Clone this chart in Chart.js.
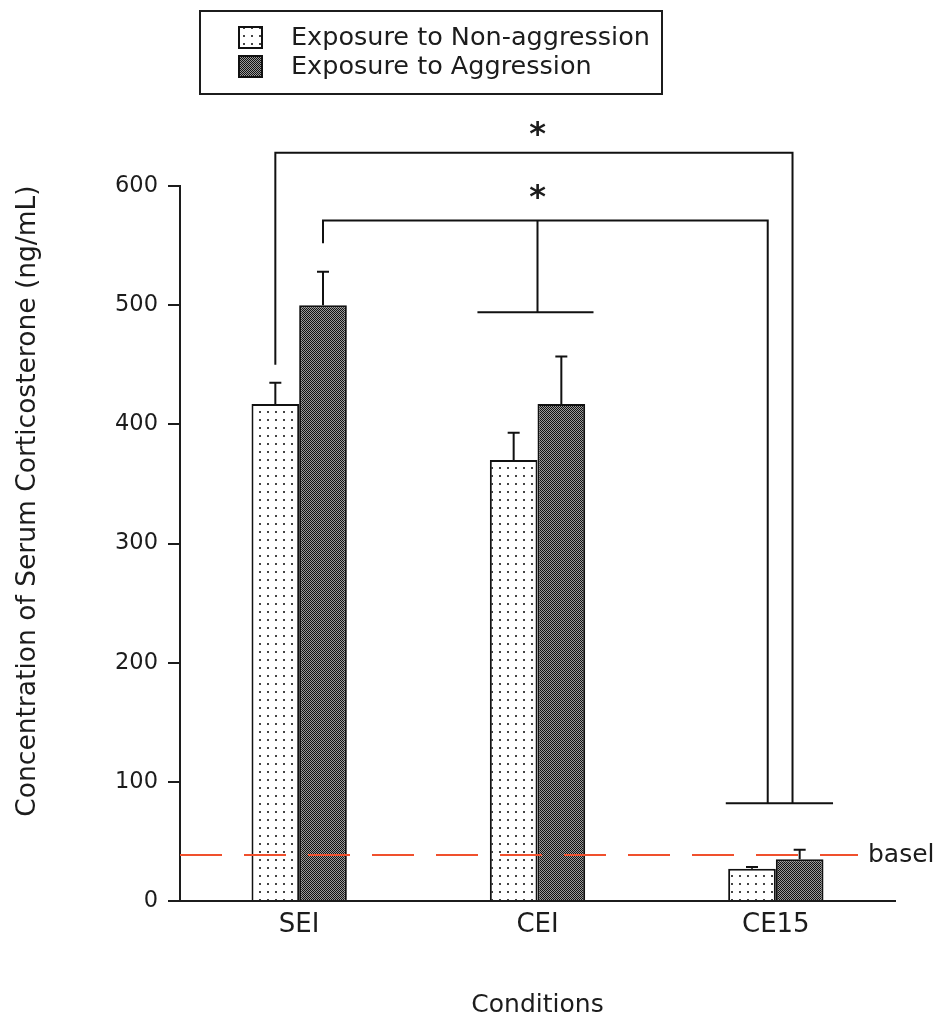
<!DOCTYPE html>
<html>
<head>
<meta charset="utf-8">
<script src="https://cdn.jsdelivr.net/npm/chart.js@4.4.1/dist/chart.umd.min.js"></script>
<style>
  html, body { margin: 0; padding: 0; background: #fff; }
</style>
</head>
<body>
<canvas id="chart" width="938" height="1020"></canvas>
<script>
// Data
const conditions = ['SEI', 'CEI', 'CE15'];
const seriesNames = ['Exposure to Non-aggression', 'Exposure to Aggression'];
const nonAggression = [417, 370, 27];
const aggression = [500, 417, 35];
const nonAggressionErr = [18, 23, 1.5];
const aggressionErr = [28, 40, 8];
const yTicks = [0, 100, 200, 300, 400, 500, 600];
const basalLevel = 38.5;

// Significance brackets, x in category units, y in ng/mL
// [left x, left y, right x, right y, top y]
const sigBrackets = [
  [-0.1, 450, 2.07, 82, 628],
  [0.1, 552, 1.966, 82, 571]
];
const sigStars = [647, 594];
// stem under the inner bracket: [x, from, to, cap left, cap right]
const ceiStem = [1.0, 571, 494, 0.748, 1.235];
// cap under the right legs: [left x, right x, y]
const ce15Cap = [1.79, 2.24, 82];

const FONT = "'DejaVu Sans', sans-serif";
const INK = '#1c1c1c';

// Fill patterns
function dotPattern() {
  const c = document.createElement('canvas');
  c.width = 8; c.height = 8;
  const g = c.getContext('2d');
  g.fillStyle = '#fff';
  g.fillRect(0, 0, 8, 8);
  g.fillStyle = '#444';
  g.fillRect(3, 3, 2, 2);
  return g.createPattern(c, 'repeat');
}

function checkPattern() {
  const c = document.createElement('canvas');
  c.width = 2; c.height = 2;
  const g = c.getContext('2d');
  g.fillStyle = '#9a9a9a';
  g.fillRect(0, 0, 2, 2);
  g.fillStyle = '#111';
  g.fillRect(0, 0, 1, 1);
  g.fillRect(1, 1, 1, 1);
  return g.createPattern(c, 'repeat');
}

const dots = dotPattern();
const checks = checkPattern();

// Extras drawn over the bars
const extrasPlugin = {
  id: 'extras',
  afterDatasetsDraw(chart) {
    const ctx = chart.ctx;
    const x = chart.scales.x;
    const y = chart.scales.y;
    const area = chart.chartArea;
    const xu = u => x.getPixelForValue(0) + u * (x.getPixelForValue(1) - x.getPixelForValue(0));

    ctx.save();
    ctx.strokeStyle = '#111';
    ctx.lineWidth = 2;

    // error bars
    const errs = [nonAggressionErr, aggressionErr];
    const vals = [nonAggression, aggression];
    errs.forEach((err, i) => {
      chart.getDatasetMeta(i).data.forEach((bar, j) => {
        const top = y.getPixelForValue(vals[i][j]);
        const end = y.getPixelForValue(vals[i][j] + err[j]);
        ctx.beginPath();
        ctx.moveTo(bar.x, top);
        ctx.lineTo(bar.x, end);
        ctx.moveTo(bar.x - 6, end);
        ctx.lineTo(bar.x + 6, end);
        ctx.stroke();
      });
    });

    // significance brackets
    sigBrackets.forEach(b => {
      ctx.beginPath();
      ctx.moveTo(xu(b[0]), y.getPixelForValue(b[1]));
      ctx.lineTo(xu(b[0]), y.getPixelForValue(b[4]));
      ctx.lineTo(xu(b[2]), y.getPixelForValue(b[4]));
      ctx.lineTo(xu(b[2]), y.getPixelForValue(b[3]));
      ctx.stroke();
    });
    ctx.beginPath();
    ctx.moveTo(xu(ceiStem[0]), y.getPixelForValue(ceiStem[1]));
    ctx.lineTo(xu(ceiStem[0]), y.getPixelForValue(ceiStem[2]));
    ctx.moveTo(xu(ceiStem[3]), y.getPixelForValue(ceiStem[2]));
    ctx.lineTo(xu(ceiStem[4]), y.getPixelForValue(ceiStem[2]));
    ctx.moveTo(xu(ce15Cap[0]), y.getPixelForValue(ce15Cap[2]));
    ctx.lineTo(xu(ce15Cap[1]), y.getPixelForValue(ce15Cap[2]));
    ctx.stroke();

    ctx.fillStyle = INK;
    ctx.font = 'bold 32px ' + FONT;
    ctx.textAlign = 'center';
    ctx.textBaseline = 'middle';
    sigStars.forEach(v => ctx.fillText('*', xu(1.0), y.getPixelForValue(v) + 6));

    // basal level
    const by = y.getPixelForValue(basalLevel);
    ctx.strokeStyle = '#f0502d';
    ctx.setLineDash([42, 22]);
    ctx.beginPath();
    ctx.moveTo(area.left, by);
    ctx.lineTo(area.right - 37, by);
    ctx.stroke();
    ctx.setLineDash([]);
    ctx.fillStyle = INK;
    ctx.font = '25px ' + FONT;
    ctx.textAlign = 'left';
    ctx.fillText('basel', area.right - 27, by);
    ctx.restore();
  },
  afterDraw(chart) {
    const ctx = chart.ctx;
    ctx.save();

    // y axis title
    ctx.fillStyle = INK;
    ctx.font = '26.5px ' + FONT;
    ctx.textAlign = 'center';
    ctx.textBaseline = 'middle';
    ctx.translate(28, 501);
    ctx.rotate(-Math.PI / 2);
    ctx.fillText('Concentration of Serum Corticosterone (ng/mL)', 0, 0);
    ctx.setTransform(1, 0, 0, 1, 0, 0);

    // legend box
    ctx.strokeStyle = INK;
    ctx.lineWidth = 2;
    ctx.strokeRect(200, 11, 462, 83);
    const fills = [dots, checks];
    seriesNames.forEach((name, i) => {
      const top = 27 + i * 29;
      ctx.fillStyle = fills[i];
      ctx.fillRect(239, top, 23, 21);
      ctx.lineWidth = 2;
      ctx.strokeStyle = '#111';
      ctx.strokeRect(239, top, 23, 21);
      ctx.fillStyle = INK;
      ctx.font = '25.5px ' + FONT;
      ctx.textAlign = 'left';
      ctx.fillText(name, 291, top + 11);
    });
    ctx.restore();
  }
};

new Chart(document.getElementById('chart'), {
  type: 'bar',
  data: {
    labels: conditions,
    datasets: [
      {
        label: seriesNames[0],
        data: nonAggression,
        backgroundColor: dots,
        borderColor: '#111',
        borderWidth: 2
      },
      {
        label: seriesNames[1],
        data: aggression,
        backgroundColor: checks,
        borderColor: '#111',
        borderWidth: 2
      }
    ]
  },
  options: {
    responsive: false,
    animation: false,
    devicePixelRatio: 1,
    categoryPercentage: 0.4,
    barPercentage: 1.0,
    layout: {
      padding: { top: 186, right: 43, bottom: 0, left: 0 }
    },
    plugins: {
      legend: { display: false },
      tooltip: { enabled: false }
    },
    scales: {
      x: {
        grid: { display: false, drawTicks: false },
        border: { display: true, color: INK, width: 2 },
        ticks: {
          color: INK,
          padding: 9,
          font: { family: FONT, size: 26 }
        },
        title: {
          display: true,
          text: 'Conditions',
          color: INK,
          padding: { top: 0, bottom: 0 },
          font: { family: FONT, size: 25 }
        },
        afterFit(scale) { scale.height = 119; }
      },
      y: {
        min: 0,
        max: 600,
        afterBuildTicks(scale) {
          scale.ticks = yTicks.map(v => ({ value: v }));
        },
        grid: {
          display: true,
          drawOnChartArea: false,
          drawTicks: true,
          tickLength: 12,
          color: INK,
          lineWidth: 2
        },
        border: { display: true, color: INK, width: 2 },
        ticks: {
          color: INK,
          padding: 10,
          font: { family: FONT, size: 22.5 }
        },
        afterFit(scale) { scale.width = 180; }
      }
    }
  },
  plugins: [extrasPlugin]
});
</script>
</body>
</html>
